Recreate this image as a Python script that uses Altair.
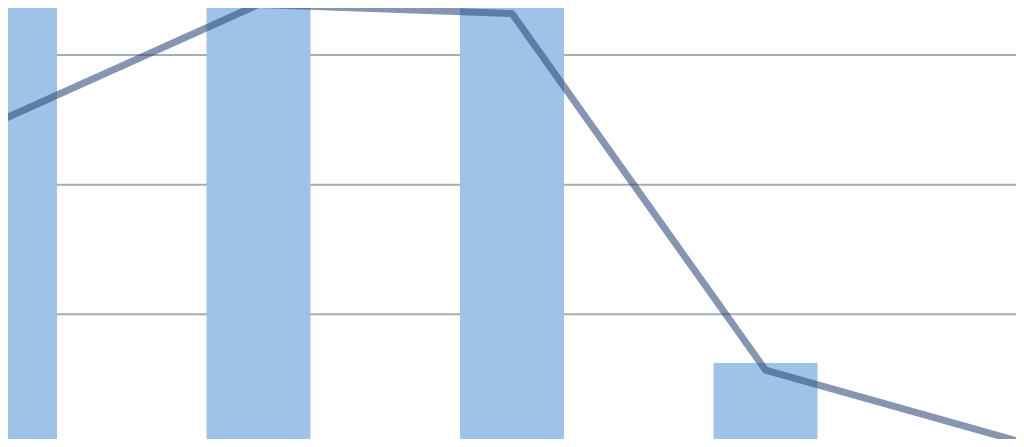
import altair as alt
import pandas as pd

# categories (no labels shown in the reference)
categories = [0, 1, 2, 3, 4]
# bar series (first three run past the top of the visible area)
bar_values = [4.2, 4.6, 4.5, 0.625, 0.0]
# line series
line_values = [2.51, 3.39, 3.32, 0.57, 0.02]
# gridline levels
grid_levels = [1, 2, 3]

df = pd.DataFrame({"cat": categories, "bar": bar_values, "line": line_values})

W, H = 1008, 431
xscale = alt.Scale(domain=[0.0118, 3.9882], nice=False, zero=False)
yscale = alt.Scale(domain=[0.0386, 3.3624], nice=False, zero=False)

base = alt.Chart(df)

grid = alt.Chart(pd.DataFrame({"g": grid_levels})).mark_rule(color="#a7abb2", strokeWidth=2).encode(
    y=alt.Y("g:Q", scale=yscale, axis=None)
)

bars = base.transform_calculate(
    x0="datum.cat - 0.205", x1="datum.cat + 0.205"
).mark_rect(color="#9dc3e6", clip=True).encode(
    x=alt.X("x0:Q", scale=xscale, axis=None),
    x2="x1:Q",
    y=alt.Y("bar:Q", scale=yscale, axis=None),
    y2=alt.datum(0),
)

line = base.mark_line(
    color="#2e4a78", opacity=0.58, strokeWidth=7, strokeCap="round", strokeJoin="round", clip=True
).encode(
    x=alt.X("cat:Q", scale=xscale, axis=None),
    y=alt.Y("line:Q", scale=yscale, axis=None),
)

chart = alt.layer(grid, bars, line).properties(
    width=W, height=H, padding=0, autosize="none"
).configure_view(stroke=None)

chart.save("out.html", embed_options={"renderer": "svg", "actions": False})
